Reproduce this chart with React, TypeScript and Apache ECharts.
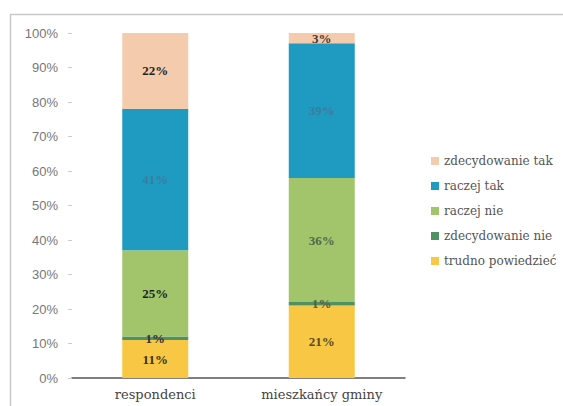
import React, { useEffect, useRef } from "react";
import * as echarts from "echarts";

const categories = ["respondenci", "mieszkańcy gminy"];
const seriesNames = ["trudno powiedzieć", "zdecydowanie nie", "raczej nie", "raczej tak", "zdecydowanie tak"];
const trudno = [11, 21];
const zdNie = [1, 1];
const raczejNie = [25, 36];
const raczejTak = [41, 39];
const zdTak = [22, 3];
const colors = ["#F8C744", "#4E9163", "#A2C56C", "#1F9AC1", "#F5CBAE"];
const labelColors = [
  ["#3a3020", "#5a4a20"],
  ["#333333", "#5a5a40"],
  ["#1f1f1f", "#4f6a48"],
  ["#3d7d9c", "#3d7d9c"],
  ["#1f1f1f", "#4a3a30"],
];
const legendOrder = ["zdecydowanie tak", "raczej tak", "raczej nie", "zdecydowanie nie", "trudno powiedzieć"];

export default function App() {
  const ref = useRef<HTMLDivElement>(null);
  useEffect(() => {
    const chart = echarts.init(ref.current!, undefined, { renderer: "svg" });
    const data = [trudno, zdNie, raczejNie, raczejTak, zdTak];
    chart.setOption({
      animation: false,
      backgroundColor: "#ffffff",
      graphic: [
        {
          type: "rect",
          shape: { x: 10.5, y: 14.5, width: 560, height: 400 },
          style: { fill: "none", stroke: "#c8c8c8", lineWidth: 1.5 },
          silent: true,
        },
      ],
      grid: { left: 72, right: 158, top: 33, bottom: 28 },
      legend: {
        orient: "vertical",
        left: 426,
        top: 150,
        itemWidth: 8,
        itemHeight: 8,
        itemGap: 13,
        icon: "rect",
        data: legendOrder,
        textStyle: { fontFamily: "DejaVu Serif", fontSize: 12, color: "#555" },
      },
      xAxis: {
        type: "category",
        data: categories,
        axisLine: { lineStyle: { color: "#555", width: 1.5 } },
        axisTick: { show: false },
        axisLabel: { fontFamily: "DejaVu Serif", fontSize: 13, color: "#444", margin: 10 },
      },
      yAxis: {
        type: "value",
        min: 0,
        max: 100,
        interval: 10,
        axisLine: { show: false },
        axisTick: { show: true, length: 4, lineStyle: { color: "#ccc" } },
        splitLine: { show: false },
        axisLabel: {
          formatter: "{value}%",
          fontFamily: "Liberation Sans",
          fontSize: 13,
          color: "#777",
          margin: 14,
        },
      },
      series: data.map((vals, i) => ({
        name: seriesNames[i],
        type: "bar",
        stack: "total",
        barWidth: 66,
        itemStyle: { color: colors[i] },
        data: vals.map((v, j) => ({
          value: v,
          label: {
            show: true,
            position: "inside",
            formatter: "{c}%",
            fontFamily: "Liberation Serif",
            fontWeight: "bold",
            fontSize: 13,
            color: labelColors[i][j],
          },
        })),
      })),
    });
    return () => chart.dispose();
  }, []);
  return (
    <div
      ref={ref}
      style={{ position: "fixed", left: 0, top: 0, width: 563, height: 406 }}
    />
  );
}
